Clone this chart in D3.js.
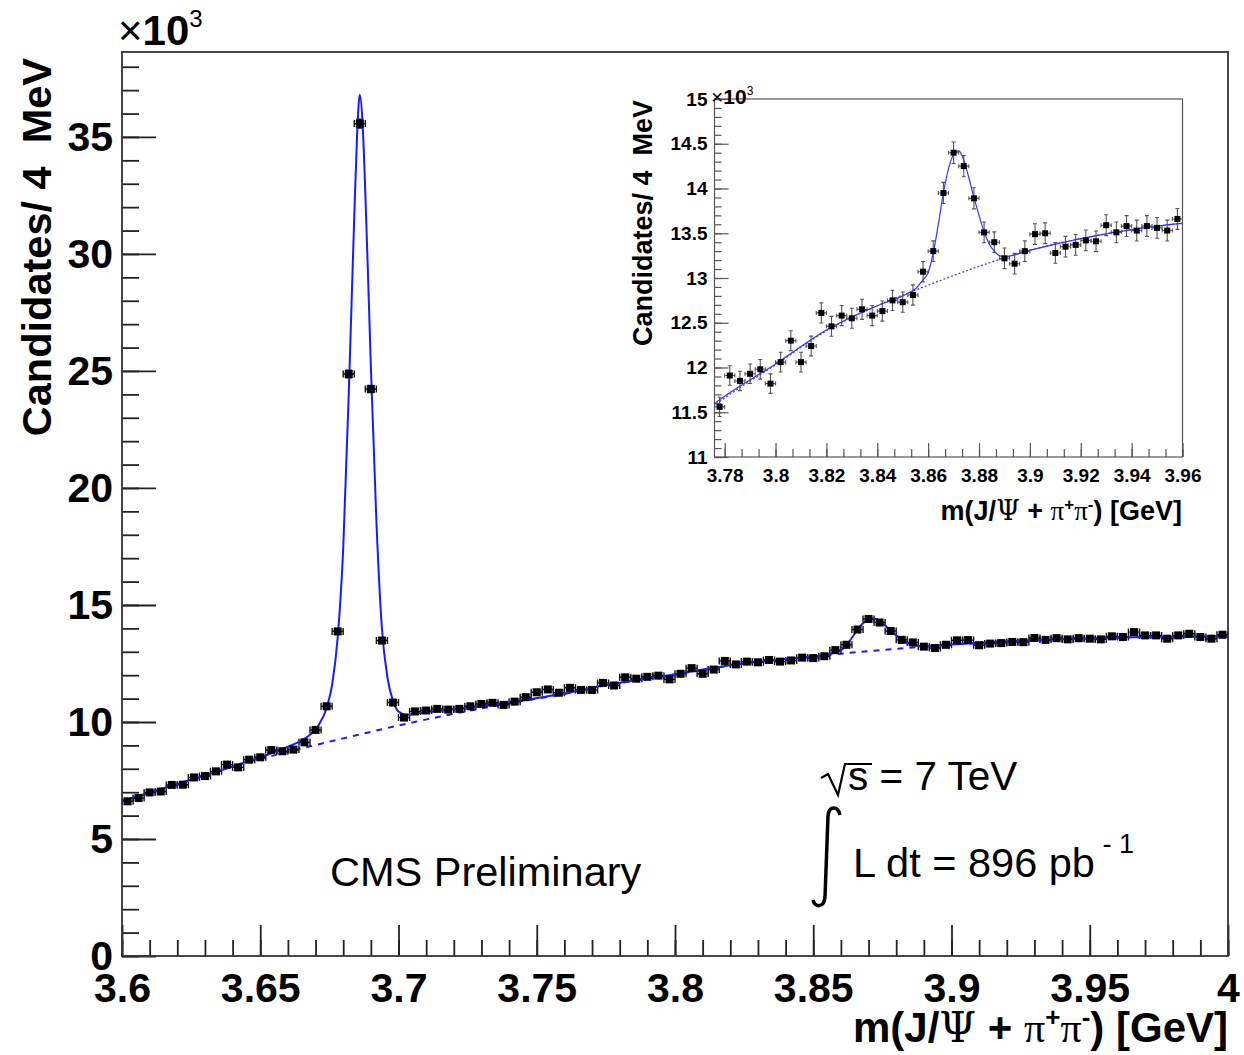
<!DOCTYPE html>
<html>
<head>
<meta charset="utf-8">
<script src="https://cdn.jsdelivr.net/npm/d3@7/dist/d3.min.js"></script>
<style>
  body { margin: 0; background: #fff; }
  svg { display: block; }
  text { font-family: "Liberation Sans", Arial, Helvetica, sans-serif; }
</style>
</head>
<body>
<script>
// J/psi pi+ pi- invariant mass, 4 MeV bins from 3.600 GeV, counts in units of 10^3
var binStart = 3.6;
var binWidth = 0.004;
var counts = [
  6.61, 6.75, 6.99, 7.03, 7.31, 7.32, 7.63, 7.69, 7.89, 8.18,
  8.06, 8.39, 8.49, 8.80, 8.75, 8.82, 9.13, 9.66, 10.67, 13.87,
  24.87, 35.57, 24.23, 13.48, 10.83, 10.19, 10.45, 10.49, 10.56, 10.53,
  10.56, 10.67, 10.77, 10.82, 10.73, 10.87, 11.06, 11.27, 11.39, 11.25,
  11.46, 11.37, 11.37, 11.67, 11.56, 11.91, 11.85, 11.93, 11.98, 11.82,
  12.06, 12.30, 12.06, 12.24, 12.61, 12.46, 12.58, 12.55, 12.65, 12.58,
  12.63, 12.75, 12.73, 12.81, 13.07, 13.30, 13.95, 14.40, 14.25, 13.89,
  13.51, 13.40, 13.22, 13.16, 13.30, 13.49, 13.50, 13.28, 13.35, 13.37,
  13.42, 13.41, 13.59, 13.51, 13.58, 13.53, 13.58, 13.56, 13.53, 13.66,
  13.63, 13.84, 13.70, 13.70, 13.56, 13.70, 13.77, 13.63, 13.56, 13.73
];

// fit curve (signal + background)
var fitMass = [3.600, 3.620, 3.640, 3.650, 3.656, 3.660, 3.664, 3.668, 3.671, 3.674,
  3.676, 3.678, 3.680, 3.682, 3.683, 3.684, 3.685, 3.686, 3.687, 3.688,
  3.689, 3.690, 3.692, 3.694, 3.696, 3.698, 3.700, 3.703, 3.708, 3.712,
  3.720, 3.730, 3.740, 3.760, 3.776, 3.780, 3.800, 3.820, 3.840, 3.850,
  3.855, 3.858, 3.860, 3.862, 3.864, 3.866, 3.868, 3.870, 3.872, 3.874,
  3.876, 3.878, 3.880, 3.882, 3.884, 3.886, 3.888, 3.890, 3.900, 3.920,
  3.940, 3.960, 3.980, 4.000];
var fitTotal = [6.62, 7.35, 8.10, 8.50, 8.75, 8.95, 9.15, 9.45, 9.85, 10.60,
  11.60, 13.60, 17.40, 24.00, 27.80, 31.60, 35.00, 36.80, 35.60, 32.60,
  29.00, 25.20, 18.60, 14.00, 11.90, 10.90, 10.45, 10.30, 10.38, 10.45,
  10.55, 10.68, 10.85, 11.22, 11.60, 11.68, 12.04, 12.42, 12.69, 12.80,
  12.88, 12.98, 13.06, 13.28, 13.60, 13.95, 14.22, 14.38, 14.42, 14.32,
  14.12, 13.90, 13.70, 13.52, 13.38, 13.30, 13.25, 13.24, 13.31, 13.44,
  13.54, 13.61, 13.64, 13.66];

// background component only
var bkgMass = [3.600, 3.620, 3.640, 3.660, 3.680, 3.700, 3.720, 3.740, 3.760, 3.776,
  3.780, 3.800, 3.820, 3.840, 3.860, 3.880, 3.900, 3.920, 3.940, 3.960, 3.980, 4.000];
var bkgValues = [6.62, 7.35, 8.10, 8.72, 9.30, 9.85, 10.35, 10.80, 11.20, 11.58,
  11.66, 12.03, 12.41, 12.69, 12.92, 13.13, 13.31, 13.44, 13.54, 13.61, 13.64, 13.66];

var mainXTicks = [3.6, 3.65, 3.7, 3.75, 3.8, 3.85, 3.9, 3.95, 4.0];
var mainXLabels = ["3.6", "3.65", "3.7", "3.75", "3.8", "3.85", "3.9", "3.95", "4"];
var mainYTicks = [0, 5, 10, 15, 20, 25, 30, 35];
var mainYLabels = ["0", "5", "10", "15", "20", "25", "30", "35"];
var insetXTicks = [3.78, 3.8, 3.82, 3.84, 3.86, 3.88, 3.9, 3.92, 3.94, 3.96];
var insetXLabels = ["3.78", "3.8", "3.82", "3.84", "3.86", "3.88", "3.9", "3.92", "3.94", "3.96"];
var insetYTicks = [11, 11.5, 12, 12.5, 13, 13.5, 14, 14.5, 15];
var insetYLabels = ["11", "11.5", "12", "12.5", "13", "13.5", "14", "14.5", "15"];

var points = counts.map(function(v, i) {
  return { m: binStart + binWidth * (i + 0.5), v: v, e: Math.sqrt(v * 1000) / 1000 };
});
var fitData = fitMass.map(function(m, i) { return { m: m, v: fitTotal[i] }; });
var bkgData = bkgMass.map(function(m, i) { return { m: m, v: bkgValues[i] }; });

var svg = d3.select("body").append("svg")
  .attr("width", 1244)
  .attr("height", 1055);
svg.append("rect").attr("width", 1244).attr("height", 1055).attr("fill", "white");

function drawPanel(p) {
  var x = d3.scaleLinear().domain(p.xDomain).range([p.left, p.right]);
  var y = d3.scaleLinear().domain(p.yDomain).range([p.bottom, p.top]);
  var g = svg.append("g");

  g.append("clipPath").attr("id", p.id + "-clip")
    .append("rect")
    .attr("x", p.left).attr("y", p.top)
    .attr("width", p.right - p.left).attr("height", p.bottom - p.top);

  // minor ticks
  var xMinor = d3.range(Math.ceil(p.xDomain[0] / p.xMinorStep - 1e-6), Math.floor(p.xDomain[1] / p.xMinorStep + 1e-6) + 1)
    .map(function(k) { return k * p.xMinorStep; });
  var yMinor = d3.range(Math.ceil(p.yDomain[0] / p.yMinorStep - 1e-6), Math.floor(p.yDomain[1] / p.yMinorStep + 1e-6) + 1)
    .map(function(k) { return k * p.yMinorStep; });

  g.append("g").attr("transform", "translate(0," + p.bottom + ")")
    .call(d3.axisBottom(x).tickValues(xMinor).tickSize(-p.xMinorLen).tickFormat(""))
    .call(function(a) { a.select(".domain").remove(); a.selectAll("line").attr("stroke", p.tickColor).attr("stroke-width", p.tickWidth); });
  g.append("g").attr("transform", "translate(" + p.left + ",0)")
    .call(d3.axisLeft(y).tickValues(yMinor).tickSize(-p.yMinorLen).tickFormat(""))
    .call(function(a) { a.select(".domain").remove(); a.selectAll("line").attr("stroke", p.tickColor).attr("stroke-width", p.tickWidth); });

  // major ticks + labels
  g.append("g").attr("transform", "translate(0," + p.bottom + ")")
    .call(d3.axisBottom(x).tickValues(p.xTicks).tickSize(-p.xMajorLen).tickPadding(p.xPad)
      .tickFormat(function(d, i) { return p.xLabels[i]; }))
    .call(function(a) {
      a.select(".domain").remove();
      a.selectAll("line").attr("stroke", p.tickColor).attr("stroke-width", p.tickWidth);
      a.selectAll("text").attr("fill", "#000").style("font-size", p.labelSize + "px")
        .style("font-weight", "bold").style("font-family", "'Liberation Sans', Arial, sans-serif");
    });
  g.append("g").attr("transform", "translate(" + p.left + ",0)")
    .call(d3.axisLeft(y).tickValues(p.yTicks).tickSize(-p.yMajorLen).tickPadding(p.yPad)
      .tickFormat(function(d, i) { return p.yLabels[i]; }))
    .call(function(a) {
      a.select(".domain").remove();
      a.selectAll("line").attr("stroke", p.tickColor).attr("stroke-width", p.tickWidth);
      a.selectAll("text").attr("fill", "#000").style("font-size", p.labelSize + "px")
        .style("font-weight", "bold").style("font-family", "'Liberation Sans', Arial, sans-serif");
    });

  // frame
  g.append("rect")
    .attr("x", p.left).attr("y", p.top)
    .attr("width", p.right - p.left).attr("height", p.bottom - p.top)
    .attr("fill", "none").attr("stroke", p.frameColor).attr("stroke-width", p.frameWidth);

  var plot = g.append("g").attr("clip-path", "url(#" + p.id + "-clip)");

  // background (dashed) and total fit
  var line = d3.line()
    .x(function(d) { return x(d.m); })
    .y(function(d) { return y(d.v); })
    .curve(d3.curveMonotoneX);

  plot.append("path").datum(bkgData)
    .attr("d", line).attr("fill", "none")
    .attr("stroke", p.fitColor).attr("stroke-width", p.bkgWidth)
    .attr("stroke-dasharray", p.dash);

  // data points with error bars
  var shown = points.filter(function(d) { return d.m > p.xDomain[0] && d.m < p.xDomain[1]; });
  var bw = binWidth / 2;
  plot.append("g").selectAll("path").data(shown).join("path")
    .attr("d", function(d) {
      var xl = x(d.m - bw), xr = x(d.m + bw), xc = x(d.m);
      var yc = y(d.v), yt = y(d.v + d.e), yb = y(d.v - d.e), c = p.cap;
      return "M" + xl + "," + yc + "H" + xr +
        "M" + xl + "," + (yc - c) + "V" + (yc + c) +
        "M" + xr + "," + (yc - c) + "V" + (yc + c) +
        "M" + xc + "," + yt + "V" + yb +
        "M" + (xc - c) + "," + yt + "H" + (xc + c) +
        "M" + (xc - c) + "," + yb + "H" + (xc + c);
    })
    .attr("fill", "none").attr("stroke", p.errColor).attr("stroke-width", p.errWidth);

  plot.append("path").datum(fitData)
    .attr("d", line).attr("fill", "none")
    .attr("stroke", p.fitColor).attr("stroke-width", p.fitWidth);

  plot.append("g").selectAll("rect").data(shown).join("rect")
    .attr("x", function(d) { return x(d.m) - p.marker / 2; })
    .attr("y", function(d) { return y(d.v) - p.marker / 2; })
    .attr("width", p.marker).attr("height", p.marker)
    .attr("fill", "#000");

  return g;
}

// main panel
drawPanel({
  id: "main",
  xDomain: [3.6, 4.0], yDomain: [0, 38.63],
  left: 122, right: 1228, top: 52, bottom: 956,
  xTicks: mainXTicks, xLabels: mainXLabels, yTicks: mainYTicks, yLabels: mainYLabels,
  xMinorStep: 0.01, yMinorStep: 1,
  xMajorLen: 31, xMinorLen: 16, yMajorLen: 34, yMinorLen: 17,
  xPad: 17, yPad: 9, labelSize: 41,
  tickColor: "#222", tickWidth: 1.8, frameColor: "#333", frameWidth: 1.8,
  fitColor: "#1a1aff", bkgWidth: 2, dash: "6,6", fitWidth: 2,
  errColor: "#111", errWidth: 1.4, cap: 3.5, marker: 8
});

// inset panel
drawPanel({
  id: "inset",
  xDomain: [3.776, 3.96], yDomain: [11, 15],
  left: 714.5, right: 1182.5, top: 99, bottom: 457,
  xTicks: insetXTicks, xLabels: insetXLabels, yTicks: insetYTicks, yLabels: insetYLabels,
  xMinorStep: 0.02 / 3, yMinorStep: 0.1,
  xMajorLen: 14, xMinorLen: 8, yMajorLen: 14, yMinorLen: 7,
  xPad: 12, yPad: 7, labelSize: 19,
  tickColor: "#555", tickWidth: 1.2, frameColor: "#555", frameWidth: 1.2,
  fitColor: "#3535ff", bkgWidth: 1.2, dash: "2,2", fitWidth: 1.2,
  errColor: "#555", errWidth: 1.1, cap: 2, marker: 6
});

// axis titles
function massTitle(sel, size) {
  var sup = Math.round(size * 0.62);
  sel.append("tspan").text("m(J/");
  sel.append("tspan").text("\u03A8").style("font-family", "'DejaVu Serif', 'Liberation Serif', serif").style("font-weight", "normal");
  sel.append("tspan").text(" + ");
  sel.append("tspan").text("\u03C0").style("font-family", "'Liberation Serif', serif").style("font-weight", "normal");
  sel.append("tspan").text("+").style("font-size", sup + "px").attr("dy", -size * 0.38);
  sel.append("tspan").text("\u03C0").style("font-family", "'Liberation Serif', serif").style("font-weight", "normal").attr("dy", size * 0.38);
  sel.append("tspan").text("-").style("font-size", sup + "px").attr("dy", -size * 0.38);
  sel.append("tspan").text(") [GeV]").attr("dy", size * 0.38);
}

svg.append("text")
  .attr("x", 1228).attr("y", 1042)
  .attr("text-anchor", "end")
  .style("font-size", "42px").style("font-weight", "bold")
  .call(massTitle, 42);

svg.append("text")
  .attr("x", 1182).attr("y", 520)
  .attr("text-anchor", "end")
  .style("font-size", "27px").style("font-weight", "bold")
  .call(massTitle, 27);

svg.append("text")
  .attr("transform", "translate(51,58) rotate(-90)")
  .attr("text-anchor", "end")
  .style("font-size", "41.5px").style("font-weight", "bold").style("white-space", "pre")
  .text("Candidates/ 4  MeV");

svg.append("text")
  .attr("transform", "translate(652,100) rotate(-90)")
  .attr("text-anchor", "end")
  .style("font-size", "27px").style("font-weight", "bold").style("white-space", "pre")
  .text("Candidates/ 4  MeV");

// x10^3 exponents
var e1 = svg.append("text").attr("x", 118).attr("y", 45).style("font-size", "42px");
e1.append("tspan").text("\u00D7");
e1.append("tspan").text("10").style("font-weight", "bold");
e1.append("tspan").text("3").style("font-size", "24px").attr("dy", -18);

var e2 = svg.append("text").attr("x", 711).attr("y", 104).style("font-size", "21px");
e2.append("tspan").text("\u00D7");
e2.append("tspan").text("10").style("font-weight", "bold");
e2.append("tspan").text("3").style("font-size", "12px").attr("dy", -9);

// annotations
svg.append("text")
  .attr("x", 330).attr("y", 886)
  .style("font-size", "41.5px")
  .text("CMS Preliminary");

svg.append("path")
  .attr("d", "M821,778 L828,774 L838,795 L845,764 L872,764")
  .attr("fill", "none").attr("stroke", "#000").attr("stroke-width", 2.2);
svg.append("text")
  .attr("x", 848).attr("y", 790)
  .style("font-size", "40.5px").style("white-space", "pre")
  .text("s = 7 TeV");

svg.append("path")
  .attr("d", "M840,815 C838,806 829,805 828,816 L825,897 C824,908 815,908 813,900")
  .attr("fill", "none").attr("stroke", "#000").attr("stroke-width", 3.5);
var lumi = svg.append("text").attr("x", 853).attr("y", 877)
  .style("font-size", "41.5px").style("white-space", "pre");
lumi.append("tspan").text("L dt = 896 pb");
lumi.append("tspan").text(" - 1").style("font-size", "27px").attr("dy", -24);
</script>
</body>
</html>
